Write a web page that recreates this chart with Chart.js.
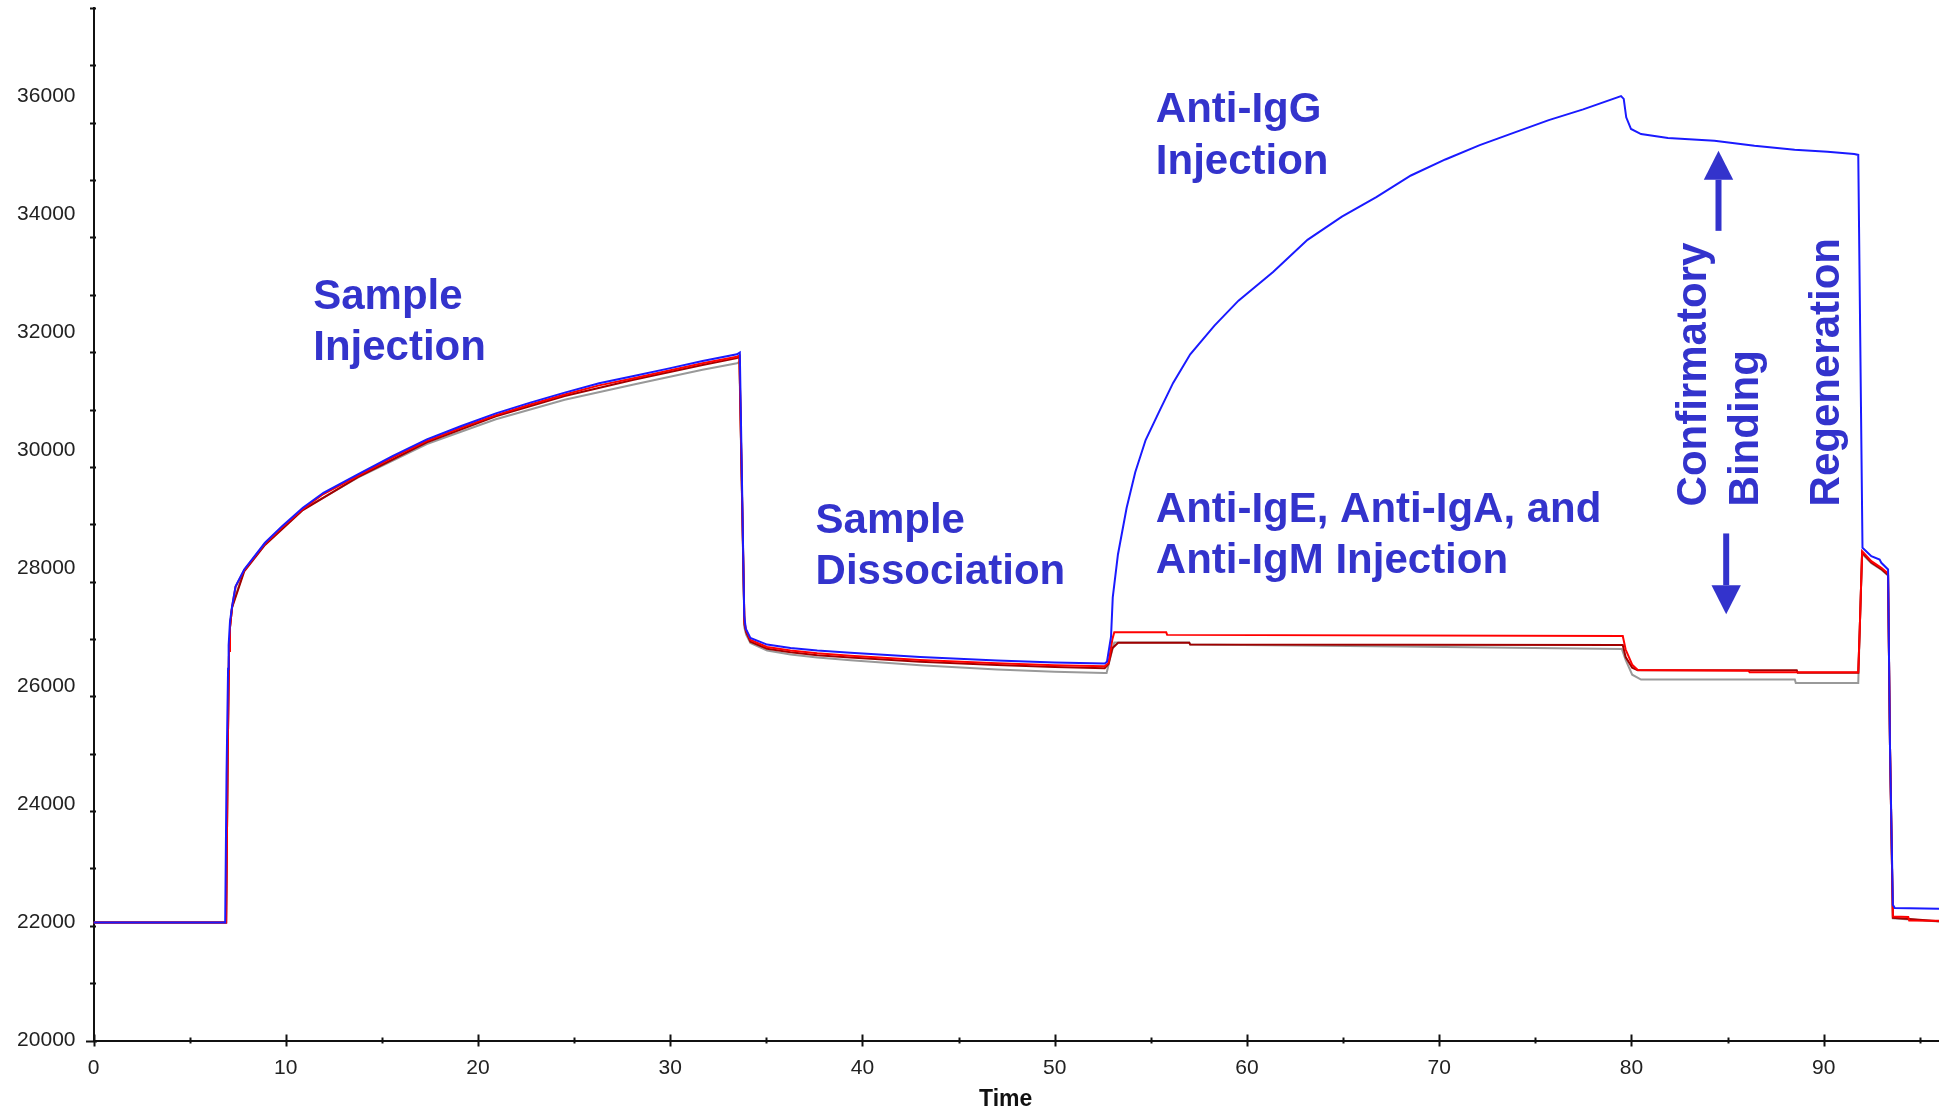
<!DOCTYPE html>
<html><head><meta charset="utf-8">
<script src="https://cdn.jsdelivr.net/npm/chart.js@4.4.1/dist/chart.umd.min.js"></script>
<style>html,body{margin:0;padding:0;background:#fff;}canvas{display:block;}</style>
</head><body>
<canvas id="c" width="1939" height="1112"></canvas>
<script>
// ---------- data (time, response) ----------
const blueTime = [0, 6.85, 6.92, 7.0, 7.03, 7.1, 7.21, 7.39, 7.84, 8.38, 8.92, 9.81, 10.89, 11.96, 13.75, 15.55, 17.34, 19.13, 20.93, 22.72, 24.51, 26.3, 28.1, 29.89, 31.68, 33.47, 33.62, 33.85, 33.93, 34.17, 35.04, 36.26, 37.65, 39.38, 43, 47, 50, 52.6, 52.72, 52.93, 53.02, 53.29, 53.74, 54.19, 54.73, 55.44, 56.16, 57.05, 58.31, 59.56, 61.36, 63.15, 64.94, 66.73, 68.53, 70.32, 72.11, 73.9, 75.7, 77.49, 79.46, 79.6, 79.73, 79.98, 80.5, 81.9, 84.32, 86.4, 88.49, 90.2, 91.59, 91.8, 92.02, 92.48, 92.91, 93.0, 93.35, 93.45, 93.6, 93.7, 96];
const blueSignal = [22000, 22000, 24500, 26300, 26700, 27100, 27360, 27700, 27983, 28209, 28436, 28718, 29030, 29284, 29595, 29906, 30189, 30415, 30630, 30811, 30981, 31139, 31263, 31388, 31517, 31631, 31660, 27200, 26980, 26824, 26710, 26654, 26609, 26570, 26500, 26440, 26405, 26388, 26420, 26844, 27510, 28238, 29025, 29631, 30177, 30662, 31146, 31631, 32116, 32540, 33024, 33570, 33964, 34296, 34661, 34933, 35175, 35388, 35600, 35781, 36006, 35960, 35647, 35449, 35364, 35296, 35250, 35165, 35097, 35063, 35024, 35010, 28351, 28209, 28153, 28097, 27983, 25000, 22299, 22245, 22235];

const redTime = [0, 6.9, 6.98, 7.05, 7.1, 7.21, 7.39, 7.84, 8.38, 8.92, 9.81, 10.89, 11.96, 13.75, 15.55, 17.34, 19.13, 20.93, 22.72, 24.51, 26.3, 28.1, 29.89, 31.68, 33.47, 33.6, 33.86, 33.95, 34.17, 35.04, 36.26, 37.65, 39.38, 43, 47, 50, 52.6, 52.8, 53.0, 53.1, 55.8, 55.85, 79.55, 79.7, 80.04, 80.33, 86.1, 86.15, 91.8, 91.88, 92.0, 92.48, 93.0, 93.35, 93.45, 93.6, 94.4, 94.45, 96];
const redSignal = [22000, 22000, 24800, 26600, 27000, 27350, 27690, 27970, 28195, 28420, 28700, 29010, 29262, 29572, 29880, 30162, 30388, 30600, 30780, 30948, 31104, 31226, 31350, 31478, 31590, 31610, 27100, 26950, 26790, 26670, 26612, 26565, 26520, 26450, 26395, 26360, 26342, 26400, 26800, 26919, 26919, 26875, 26855, 26626, 26371, 26280, 26265, 26240, 26240, 27000, 28294, 28124, 28012, 27915, 25000, 22101, 22095, 22033, 22030];

const darkRedTime = [0, 6.9, 6.98, 7.05, 7.1, 7.21, 7.84, 8.92, 10.89, 13.75, 17.34, 20.93, 24.51, 28.1, 31.68, 33.47, 33.6, 33.86, 33.95, 34.17, 35.04, 36.26, 37.65, 39.38, 43, 47, 50, 52.6, 52.8, 53.0, 53.3, 57, 57.05, 79.55, 79.7, 80.04, 80.33, 88.6, 88.65, 91.8, 91.88, 92.0, 92.48, 93.0, 93.35, 93.45, 93.6, 96];
const darkRedSignal = [22000, 22000, 24800, 26600, 27000, 27340, 27950, 28400, 28990, 29550, 30140, 30580, 30925, 31200, 31450, 31565, 31590, 27050, 26920, 26760, 26640, 26580, 26530, 26490, 26420, 26365, 26330, 26310, 26380, 26650, 26740, 26740, 26710, 26705, 26500, 26320, 26275, 26275, 26235, 26235, 27000, 28270, 28100, 27990, 27890, 25000, 22080, 22020];

const grayTime = [0, 6.9, 6.98, 7.05, 7.1, 7.21, 7.84, 8.92, 10.89, 13.75, 17.34, 20.93, 24.51, 28.1, 31.68, 33.47, 33.6, 33.86, 33.95, 34.17, 35.04, 36.26, 37.65, 39.38, 43, 47, 50, 52.6, 52.7, 52.9, 53.1, 57, 57.05, 68, 79.5, 79.7, 80.04, 80.5, 88.5, 88.55, 91.8, 91.88, 92.0, 92.48, 93.0, 93.35, 93.45, 93.6, 96];
const graySignal = [22000, 22000, 24800, 26600, 27000, 27355, 27975, 28420, 29000, 29540, 30110, 30530, 30860, 31120, 31370, 31480, 31500, 27000, 26880, 26739, 26610, 26541, 26490, 26444, 26360, 26290, 26250, 26230, 26230, 26500, 26746, 26746, 26712, 26680, 26637, 26450, 26200, 26117, 26117, 26060, 26060, 27000, 28250, 28090, 27980, 27880, 25000, 22070, 22015];

const xTickLabels = [0, 10, 20, 30, 40, 50, 60, 70, 80, 90];
const yTickLabels = [20000, 22000, 24000, 26000, 28000, 30000, 32000, 34000, 36000];
const xAxisTitle = 'Time';

// ---------- annotations (data coordinates) ----------
const textNotes = [
  { lines: ['Sample', 'Injection'], t: 11.43, v: [32395, 31529] },
  { lines: ['Sample', 'Dissociation'], t: 37.56, v: [28606, 27729] },
  { lines: ['Anti-IgG', 'Injection'], t: 55.26, v: [35567, 34694] },
  { lines: ['Anti-IgE, Anti-IgA, and', 'Anti-IgM Injection'], t: 55.26, v: [28781, 27932] }
];
const verticalNotes = [
  { text: 'Confirmatory', t: 83.89, v: 29052 },
  { text: 'Binding', t: 86.6, v: 29052 },
  { text: 'Regeneration', t: 90.81, v: 29052 }
];
const arrows = [
  { t: 84.53, tail: 33723, head: 34588, tip: 35081 },
  { t: 84.93, tail: 28594, head: 27718, tip: 27226 }
];

const pts = (ts, vs) => ts.map((t, i) => ({ x: t, y: vs[i] }));
const NOTE_COLOR = '#3333cc';
const NOTE_FONT = 'bold 42px "Liberation Sans", Arial, sans-serif';
const TICK_FONT = '21px "Liberation Sans", Arial, sans-serif';

const whiteBg = {
  id: 'whiteBg',
  beforeDraw(chart) {
    const c = chart.ctx; c.save(); c.fillStyle = '#fff';
    c.fillRect(0, 0, chart.width, chart.height); c.restore();
  }
};

const isLabelled = (list, v) => list.includes(Math.round(v));

const axisDecor = {
  id: 'axisDecor',
  afterDraw(chart) {
    const { ctx, scales: { x, y }, chartArea } = chart;
    ctx.save();
    ctx.strokeStyle = '#111'; ctx.lineWidth = 2;
    const ax = chartArea.left - 0.5, ay = chartArea.bottom;
    y.ticks.forEach(tk => {
      const py = Math.round(y.getPixelForValue(tk.value)) + 0.5;
      const major = isLabelled(yTickLabels, tk.value);
      ctx.beginPath(); ctx.moveTo(ax - (major ? 7 : 3), py); ctx.lineTo(ax + (major ? 4 : 3), py); ctx.stroke();
    });
    x.ticks.forEach(tk => {
      const px = Math.round(x.getPixelForValue(tk.value)) + 0.5;
      const major = isLabelled(xTickLabels, tk.value);
      ctx.beginPath(); ctx.moveTo(px, ay - (major ? 6 : 3)); ctx.lineTo(px, ay + (major ? 6 : 3)); ctx.stroke();
    });
    // y tick labels
    ctx.fillStyle = '#222'; ctx.font = TICK_FONT;
    ctx.textAlign = 'right'; ctx.textBaseline = 'middle';
    yTickLabels.forEach(v => ctx.fillText(String(v), chartArea.left - 18, y.getPixelForValue(v)));
    // axis title
    ctx.fillStyle = '#111';
    ctx.font = 'bold 23px "Liberation Sans Narrow", "Liberation Sans", Arial, sans-serif';
    ctx.textAlign = 'center'; ctx.textBaseline = 'middle';
    ctx.fillText(xAxisTitle, x.getPixelForValue(47.45), 1100);
    ctx.restore();
  }
};

const notes = {
  id: 'notes',
  afterDraw(chart) {
    const { ctx, scales: { x, y } } = chart;
    ctx.save();
    ctx.fillStyle = NOTE_COLOR; ctx.strokeStyle = NOTE_COLOR;
    ctx.font = NOTE_FONT; ctx.textBaseline = 'alphabetic'; ctx.textAlign = 'left';
    textNotes.forEach(n => {
      const px = x.getPixelForValue(n.t);
      n.lines.forEach((s, i) => ctx.fillText(s, px, y.getPixelForValue(n.v[i])));
    });
    verticalNotes.forEach(n => {
      ctx.save();
      ctx.translate(x.getPixelForValue(n.t), y.getPixelForValue(n.v));
      ctx.rotate(-Math.PI / 2);
      ctx.fillText(n.text, 0, 0);
      ctx.restore();
    });
    arrows.forEach(a => {
      const px = x.getPixelForValue(a.t);
      const pTail = y.getPixelForValue(a.tail), pHead = y.getPixelForValue(a.head), pTip = y.getPixelForValue(a.tip);
      ctx.lineWidth = 6;
      ctx.beginPath(); ctx.moveTo(px, pTail); ctx.lineTo(px, pHead); ctx.stroke();
      ctx.beginPath(); ctx.moveTo(px - 14.7, pHead); ctx.lineTo(px + 14.7, pHead); ctx.lineTo(px, pTip); ctx.closePath(); ctx.fill();
    });
    ctx.restore();
  }
};

const tickFont = { family: '"Liberation Sans", Arial, sans-serif', size: 21 };

new Chart(document.getElementById('c'), {
  type: 'line',
  data: {
    datasets: [
      { label: 'Anti-IgG', data: pts(blueTime, blueSignal), borderColor: '#1a1aff', borderWidth: 2 },
      { label: 'Sample 2', data: pts(redTime, redSignal), borderColor: '#ff0000', borderWidth: 2 },
      { label: 'Sample 3', data: pts(darkRedTime, darkRedSignal), borderColor: '#a00000', borderWidth: 2 },
      { label: 'Sample 4', data: pts(grayTime, graySignal), borderColor: '#999999', borderWidth: 2 }
    ]
  },
  options: {
    responsive: false,
    animation: false,
    events: [],
    elements: { point: { radius: 0 }, line: { tension: 0, fill: false } },
    layout: { padding: { top: 8, left: 0, right: 0, bottom: 0 } },
    plugins: { legend: { display: false }, tooltip: { enabled: false } },
    scales: {
      x: {
        type: 'linear', min: 0, max: 96,
        afterFit(s) { s.height = 71.5; s.paddingLeft = 0; s.paddingRight = 0; },
        grid: { display: false, drawTicks: false },
        border: { display: true, color: '#111', width: 2 },
        ticks: {
          stepSize: 5, autoSkip: false, includeBounds: false, maxRotation: 0,
          callback: v => isLabelled(xTickLabels, v) ? String(Math.round(v)) : '',
          font: tickFont, color: '#222', padding: 15
        }
      },
      y: {
        type: 'linear', min: 20000, max: 37500,
        afterFit(s) { s.width = 93.5; s.paddingTop = 0; s.paddingBottom = 0; },
        grid: { display: false, drawTicks: false },
        border: { display: true, color: '#111', width: 2 },
        ticks: {
          stepSize: 1000, autoSkip: false, includeBounds: false,
          callback: () => '',
          font: tickFont, color: '#222', padding: 18
        }
      }
    }
  },
  plugins: [whiteBg, axisDecor, notes]
});
</script>
</body></html>
